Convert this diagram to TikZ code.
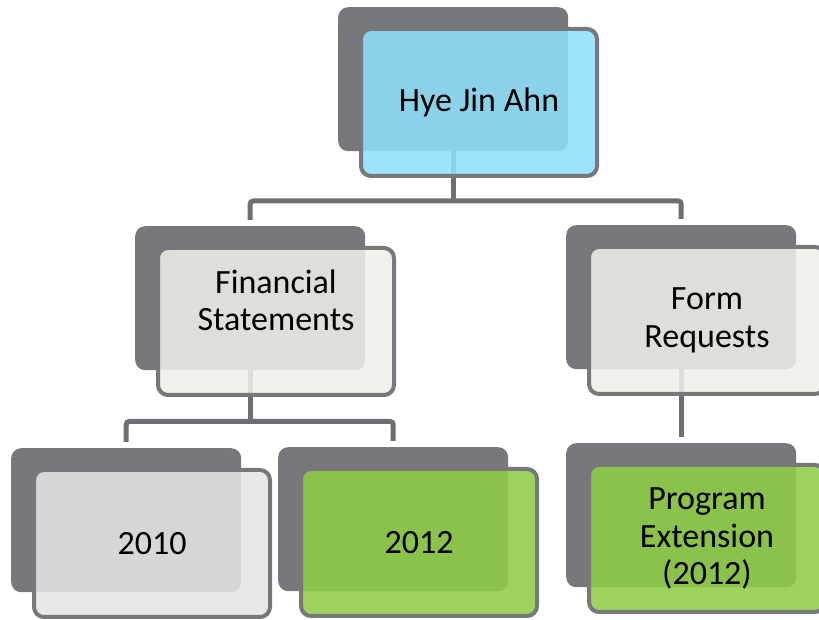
\documentclass[tikz,border=0pt]{standalone}
\usepackage{fontspec}
\setmainfont{Carlito}
\usetikzlibrary{calc}
\definecolor{darkback}{RGB}{119,120,123}
\definecolor{conncol}{RGB}{110,111,114}
\definecolor{fblue}{RGB}{143,223,249}
\definecolor{fbeige}{RGB}{240,238,231}
\definecolor{fgray}{RGB}{228,229,229}
\definecolor{fgreen}{RGB}{143,205,68}
\pgfdeclarelayer{bg}
\pgfsetlayers{bg,main}
\tikzset{
  backbox/.style={fill=darkback, draw=none, rounded corners=10pt, minimum width=230pt, minimum height=144pt, inner sep=0pt, anchor=north west},
  frontbox/.style={draw=darkback, line width=4pt, fill opacity=0.87, draw opacity=1, text opacity=1, rounded corners=10pt, minimum width=236pt, minimum height=147pt, inner sep=0pt, anchor=center, font=\fontsize{34}{37.5}\selectfont, align=center, text=black},
  lbltext/.style={font=\fontsize{34}{37.5}\selectfont, align=center, text=black, inner sep=0pt},
  conn/.style={draw=conncol, line width=5pt, rounded corners=3pt},
}
\begin{document}
\begin{tikzpicture}[x=1pt,y=1pt]
\useasboundingbox (0,0) rectangle (819,620);
% top
\node[backbox] (topb) at (338,613) {};
\node[frontbox, fill=fblue] (top) at ([xshift=141pt,yshift=-95.5pt]topb.north west) {Hye Jin Ahn};
% level 2
\node[backbox] (fsb) at (135,394) {};
\node[frontbox, fill=fbeige] (fs) at ([xshift=141pt,yshift=-95.5pt]fsb.north west) {};
\node[lbltext] (fst) at ([yshift=21pt]fs.center) {Financial\\Statements};
\node[backbox] (frb) at (566,395) {};
\node[frontbox, fill=fbeige] (fr) at ([xshift=141pt,yshift=-95.5pt]frb.north west) {Form\\Requests};
% level 3
\node[backbox] (y10b) at (11,172) {};
\node[frontbox, fill=fgray] (y10) at ([xshift=141pt,yshift=-95.5pt]y10b.north west) {2010};
\node[backbox] (y12b) at (278,173) {};
\node[frontbox, fill=fgreen] (y12) at ([xshift=141pt,yshift=-95.5pt]y12b.north west) {2012};
\node[backbox] (peb) at (566,177) {};
\node[frontbox, fill=fgreen] (pe) at ([xshift=141pt,yshift=-95.5pt]peb.north west) {Program\\Extension\\(2012)};
% connectors
\begin{pgfonlayer}{bg}
\coordinate (jt) at (topb.south |- 0,419);
\draw[conn] (topb.south) -- (jt);
\draw[conn] ([yshift=6pt]fsb.north) |- (jt) -| ([yshift=6pt]frb.north);
\coordinate (jf) at (fsb.south |- 0,198.5);
\draw[conn] (fsb.south) -- (jf);
\draw[conn] ([yshift=6pt]y10b.north) |- (jf) -| ([yshift=6pt]y12b.north);
\draw[conn] (frb.south) -- ([yshift=6pt]peb.north);
\end{pgfonlayer}
\end{tikzpicture}
\end{document}
